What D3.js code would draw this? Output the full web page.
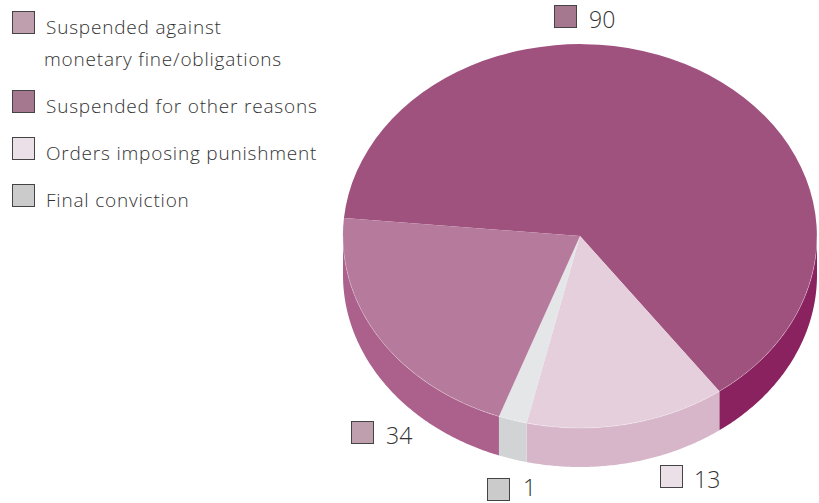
<!DOCTYPE html>
<html>
<head>
<meta charset="utf-8">
<script src="https://cdn.jsdelivr.net/npm/d3@7"></script>
<style>
  html, body { margin: 0; padding: 0; background: #fff; }
  text { font-family: "Open Sans", sans-serif; font-weight: 300; fill: #333; }
  .legend-label { font-size: 19px; letter-spacing: 0.8px; }
  .value-label { font-size: 23px; }
</style>
</head>
<body>
<div id="chart"></div>
<script>
// values, in drawing order (clockwise from the left edge)
const categories = ["Suspended for other reasons", "Orders imposing punishment", "Final conviction", "Suspended against monetary fine/obligations"];
const values = [90, 13, 1, 34];
const topColors = ["#a0527e", "#e5cfdc", "#e5e6e8", "#b67a9c"];
const sideColors = ["#8a2260", "#d7b6ca", "#d1d3d4", "#ab618b"];
const keyColors = ["#a5788f", "#ebe0e7", "#cbcbcb", "#bf9fae"];

const width = 819, height = 503;
const cx = 580, cy = 236, rx = 237, ry = 192, depth = 39;

const svg = d3.select("#chart").append("svg")
  .attr("width", width)
  .attr("height", height);

// the slices in the source are not drawn strictly in proportion,
// so cumulative value goes through a piecewise scale (degrees clockwise from east)
const cumulative = [0, ...d3.cumsum(values)];
const angle = d3.scaleLinear()
  .domain(cumulative)
  .range([185.4, 414, 463, 470, 545.4]);

const slices = values.map((v, i) => ({
  i,
  t0: angle(cumulative[i]),
  t1: angle(cumulative[i + 1])
}));

const rad = d => d * Math.PI / 180;
const ex = t => cx + rx * Math.cos(rad(t));
const ey = t => cy + ry * Math.sin(rad(t));

// side walls: only the part on the front half of the ellipse shows
const wall = d3.area()
  .x(t => ex(t))
  .y0(t => ey(t))
  .y1(t => ey(t) + depth);

const walls = [];
slices.forEach(s => {
  [0, 360].forEach(turn => {
    const a = Math.max(s.t0, turn), b = Math.min(s.t1, turn + 180);
    if (b > a) walls.push({ i: s.i, ts: [...d3.range(a, b, 0.5), b] });
  });
});

svg.append("g")
  .selectAll("path")
  .data(walls)
  .enter()
  .append("path")
  .attr("d", d => wall(d.ts))
  .attr("fill", d => sideColors[d.i]);

// top face, unit arc stretched into the ellipse
const arc = d3.arc().innerRadius(0).outerRadius(1);

svg.append("g")
  .attr("transform", `translate(${cx},${cy}) scale(${rx},${ry})`)
  .selectAll("path")
  .data(slices)
  .enter()
  .append("path")
  .attr("d", d => arc({ startAngle: rad(d.t0 + 90), endAngle: rad(d.t1 + 90) }))
  .attr("fill", d => topColors[d.i]);

// thin light rim where the top face meets the walls
svg.append("path")
  .attr("d", d3.line().x(ex).y(ey)(d3.range(0, 180.5, 0.5)))
  .attr("fill", "none")
  .attr("stroke", "#fff")
  .attr("stroke-opacity", 0.3)
  .attr("stroke-width", 0.8);

function swatch(g, x, y, color) {
  g.append("rect")
    .attr("x", x + 0.5)
    .attr("y", y + 0.5)
    .attr("width", 22)
    .attr("height", 22)
    .attr("fill", color)
    .attr("stroke", "#444")
    .attr("stroke-width", 1);
}

// legend
const legend = svg.append("g");
const legendRows = [
  { i: 3, y: 11, lines: ["Suspended against", "monetary fine/obligations"] },
  { i: 0, y: 90, lines: [categories[0]] },
  { i: 1, y: 137, lines: [categories[1]] },
  { i: 2, y: 184, lines: [categories[2]] }
];

legendRows.forEach(row => {
  swatch(legend, 12, row.y, keyColors[row.i]);
  row.lines.forEach((line, k) => {
    legend.append("text")
      .attr("class", "legend-label")
      .attr("x", k === 0 ? 46 : 44)
      .attr("y", row.y + 23 + k * 32)
      .text(line);
  });
});

// value labels around the pie
const valueKeys = [
  { i: 0, x: 554, y: 5, dx: 35, dy: 23 },
  { i: 3, x: 351, y: 421, dx: 35, dy: 23 },
  { i: 2, x: 487, y: 478, dx: 36, dy: 18 },
  { i: 1, x: 660, y: 465, dx: 34, dy: 23 }
];

const labels = svg.append("g");
valueKeys.forEach(k => {
  swatch(labels, k.x, k.y, keyColors[k.i]);
  labels.append("text")
    .attr("class", "value-label")
    .attr("x", k.x + k.dx)
    .attr("y", k.y + k.dy)
    .text(values[k.i]);
});
</script>
</body>
</html>
